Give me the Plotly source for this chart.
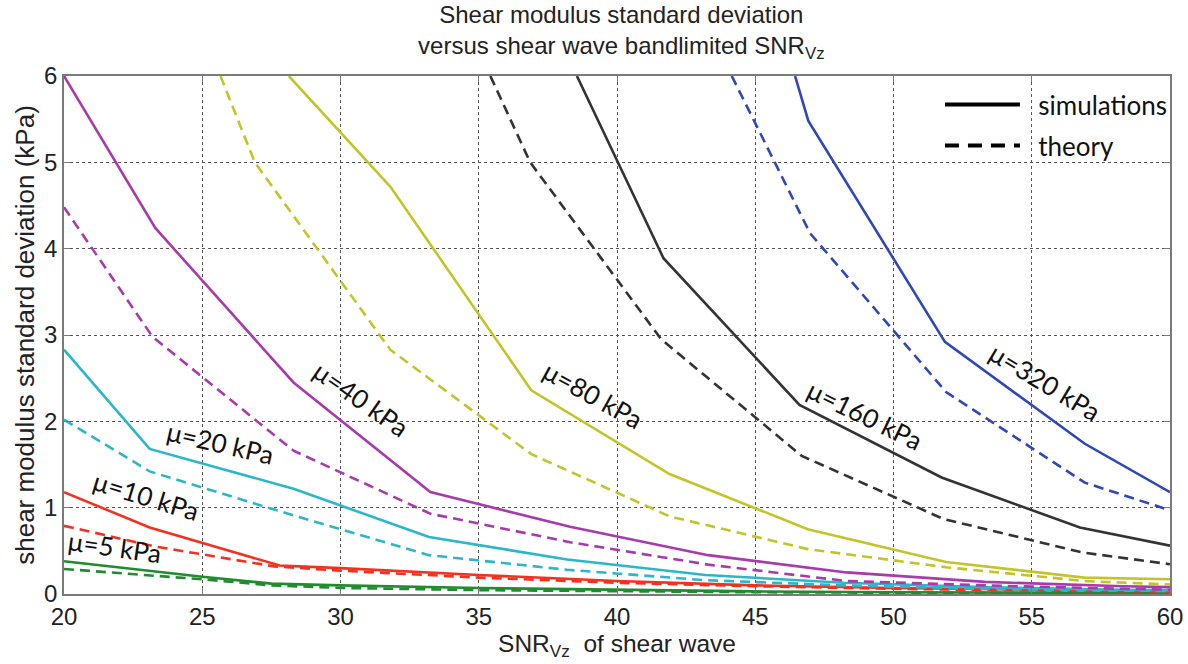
import plotly.graph_objects as go

# ---- data: SNR (dB) and shear-modulus standard deviation (kPa) ----
# mu = 5 kPa
snr_sim_5 = [20, 25, 27.5, 30, 35, 40, 45, 50, 55, 60]
sd_sim_5 = [0.38, 0.20, 0.12, 0.10, 0.07, 0.05, 0.03, 0.02, 0.015, 0.01]
snr_th_5 = [20, 25, 27.5, 30, 35, 40, 45, 50, 55, 60]
sd_th_5 = [0.29, 0.17, 0.10, 0.07, 0.045, 0.03, 0.02, 0.015, 0.01, 0.008]

# mu = 10 kPa
snr_sim_10 = [20, 23.1, 27.8, 30, 35, 40, 45, 50, 55, 60]
sd_sim_10 = [1.18, 0.77, 0.33, 0.30, 0.22, 0.15, 0.10, 0.07, 0.05, 0.04]
snr_th_10 = [20, 23.3, 27.6, 30, 35, 40, 45, 50, 55, 60]
sd_th_10 = [0.79, 0.55, 0.32, 0.27, 0.19, 0.13, 0.09, 0.06, 0.04, 0.03]

# mu = 20 kPa
snr_sim_20 = [20, 23.1, 28.3, 33.2, 38.2, 43.2, 48.2, 53.2, 58.2, 60]
sd_sim_20 = [2.83, 1.68, 1.22, 0.66, 0.40, 0.22, 0.13, 0.08, 0.05, 0.045]
snr_th_20 = [20, 23.1, 28.2, 33.2, 38.2, 43.2, 48.2, 53.2, 58.2, 60]
sd_th_20 = [2.02, 1.42, 0.92, 0.45, 0.28, 0.16, 0.10, 0.06, 0.04, 0.035]

# mu = 40 kPa
snr_sim_40 = [20, 23.3, 28.3, 33.25, 38.3, 43.3, 48.3, 53.3, 58.3, 60]
sd_sim_40 = [6.0, 4.24, 2.45, 1.18, 0.78, 0.45, 0.25, 0.14, 0.09, 0.08]
snr_th_40 = [20, 23.2, 28.3, 33.25, 38.3, 43.3, 48.3, 53.3, 58.3, 60]
sd_th_40 = [4.48, 2.98, 1.66, 0.93, 0.60, 0.34, 0.15, 0.10, 0.06, 0.05]

# mu = 80 kPa
snr_sim_80 = [28.13, 31.8, 36.9, 41.9, 46.9, 51.9, 56.9, 60]
sd_sim_80 = [6.0, 4.72, 2.36, 1.39, 0.75, 0.37, 0.19, 0.17]
snr_th_80 = [25.66, 26.9, 31.8, 36.9, 41.9, 46.9, 51.9, 56.9, 60]
sd_th_80 = [6.0, 5.0, 2.83, 1.62, 0.90, 0.52, 0.31, 0.15, 0.11]

# mu = 160 kPa
snr_sim_160 = [38.55, 41.68, 46.6, 51.74, 56.74, 60]
sd_sim_160 = [6.0, 3.89, 2.19, 1.35, 0.77, 0.56]
snr_th_160 = [35.42, 36.86, 41.6, 46.68, 51.8, 56.85, 60]
sd_th_160 = [6.0, 5.0, 2.95, 1.60, 0.87, 0.48, 0.345]

# mu = 320 kPa
snr_sim_320 = [46.44, 46.92, 51.86, 56.92, 60]
sd_sim_320 = [6.0, 5.48, 2.92, 1.74, 1.18]
snr_th_320 = [44.15, 46.98, 51.9, 56.92, 60]
sd_th_320 = [6.0, 4.18, 2.34, 1.29, 0.97]

x_ticks = [20, 25, 30, 35, 40, 45, 50, 55, 60]
y_ticks = [0, 1, 2, 3, 4, 5, 6]

# label text, anchor position (SNR, kPa) and rotation for each stiffness
curve_labels = ["μ=5 kPa", "μ=10 kPa", "μ=20 kPa", "μ=40 kPa",
                "μ=80 kPa", "μ=160 kPa", "μ=320 kPa"]
label_x = [21.85, 22.99, 25.67, 30.75, 39.15, 48.97, 55.48]
label_y = [0.54, 1.14, 1.75, 2.26, 2.31, 2.07, 2.45]
label_angle = [8, 17, 13, 35, 29, 26, 31]

series = [
    ("#1f8c2e", snr_sim_5, sd_sim_5, snr_th_5, sd_th_5),
    ("#f2311f", snr_sim_10, sd_sim_10, snr_th_10, sd_th_10),
    ("#2ab7c9", snr_sim_20, sd_sim_20, snr_th_20, sd_th_20),
    ("#a83aac", snr_sim_40, sd_sim_40, snr_th_40, sd_th_40),
    ("#c4c42a", snr_sim_80, sd_sim_80, snr_th_80, sd_th_80),
    ("#333333", snr_sim_160, sd_sim_160, snr_th_160, sd_th_160),
    ("#2f48b5", snr_sim_320, sd_sim_320, snr_th_320, sd_th_320),
]

fig = go.Figure()

for color, xs, ys, xt, yt in series:
    fig.add_trace(go.Scatter(x=xt, y=yt, mode="lines", showlegend=False,
                             line=dict(color=color, width=2.6, dash="10px,6px")))
    fig.add_trace(go.Scatter(x=xs, y=ys, mode="lines", showlegend=False,
                             line=dict(color=color, width=2.6)))

# legend entries (line style key)
pad = "\u00a0" * 2
fig.add_trace(go.Scatter(x=[None], y=[None], mode="lines", name=pad + "simulations",
                         legendgroup="a",
                         line=dict(color="black", width=4)))
fig.add_trace(go.Scatter(x=[None], y=[None], mode="lines", name=pad + "theory",
                         legendgroup="b",
                         line=dict(color="black", width=4, dash="14px,9px")))

label_font = dict(family="Lato, Noto Sans, sans-serif", size=26, color="#111111")
for txt, lx, ly, ang in zip(curve_labels, label_x, label_y, label_angle):
    fig.add_annotation(x=lx, y=ly, text=txt, showarrow=False,
                       textangle=ang, font=label_font)

axis_font = dict(family="Liberation Sans, Arial, sans-serif", size=24, color="#222222")

fig.update_xaxes(range=[20, 60], tickvals=x_ticks, ticktext=[str(v) for v in x_ticks],
                 showgrid=True, gridcolor="#555555", gridwidth=1, griddash="dot",
                 showline=True, linecolor="#7a7a7a", linewidth=1.5, mirror="ticks",
                 ticks="inside", ticklen=6, tickcolor="#7a7a7a",
                 tickfont=axis_font, zeroline=False,
                 title=dict(text="\u00a0\u00a0\u00a0SNR<sub>Vz</sub>  of shear wave",
                            font=dict(family="Liberation Sans, Arial, sans-serif",
                                      size=24.5, color="#222222"),
                            standoff=6))
fig.update_yaxes(range=[0, 6], tickvals=y_ticks, ticktext=[str(v) for v in y_ticks],
                 showgrid=True, gridcolor="#555555", gridwidth=1, griddash="dot",
                 showline=True, linecolor="#7a7a7a", linewidth=1.5, mirror="ticks",
                 ticks="inside", ticklen=6, tickcolor="#7a7a7a",
                 tickfont=axis_font, zeroline=False,
                 title=dict(text="shear modulus standard deviation (kPa)",
                            font=dict(family="Liberation Sans, Arial, sans-serif",
                                      size=26, color="#222222"),
                            standoff=2))

fig.update_layout(
    width=1188, height=664,
    margin=dict(l=64, r=18, t=76, b=70, autoexpand=False),
    paper_bgcolor="white", plot_bgcolor="white",
    title=dict(text="Shear modulus standard deviation<br>versus shear wave bandlimited SNR<sub>Vz</sub>",
               x=0.523, xanchor="center", y=0.965, yanchor="top",
               font=dict(family="Liberation Sans, Arial, sans-serif", size=24,
                         color="#222222")),
    legend=dict(x=0.792, y=0.99, xanchor="left", yanchor="top",
                bgcolor="rgba(0,0,0,0)", borderwidth=0, itemwidth=75,
                tracegroupgap=4,
                font=dict(family="Lato, Noto Sans, sans-serif", size=26,
                          color="#111111")),
)

fig.write_html("out.html")
